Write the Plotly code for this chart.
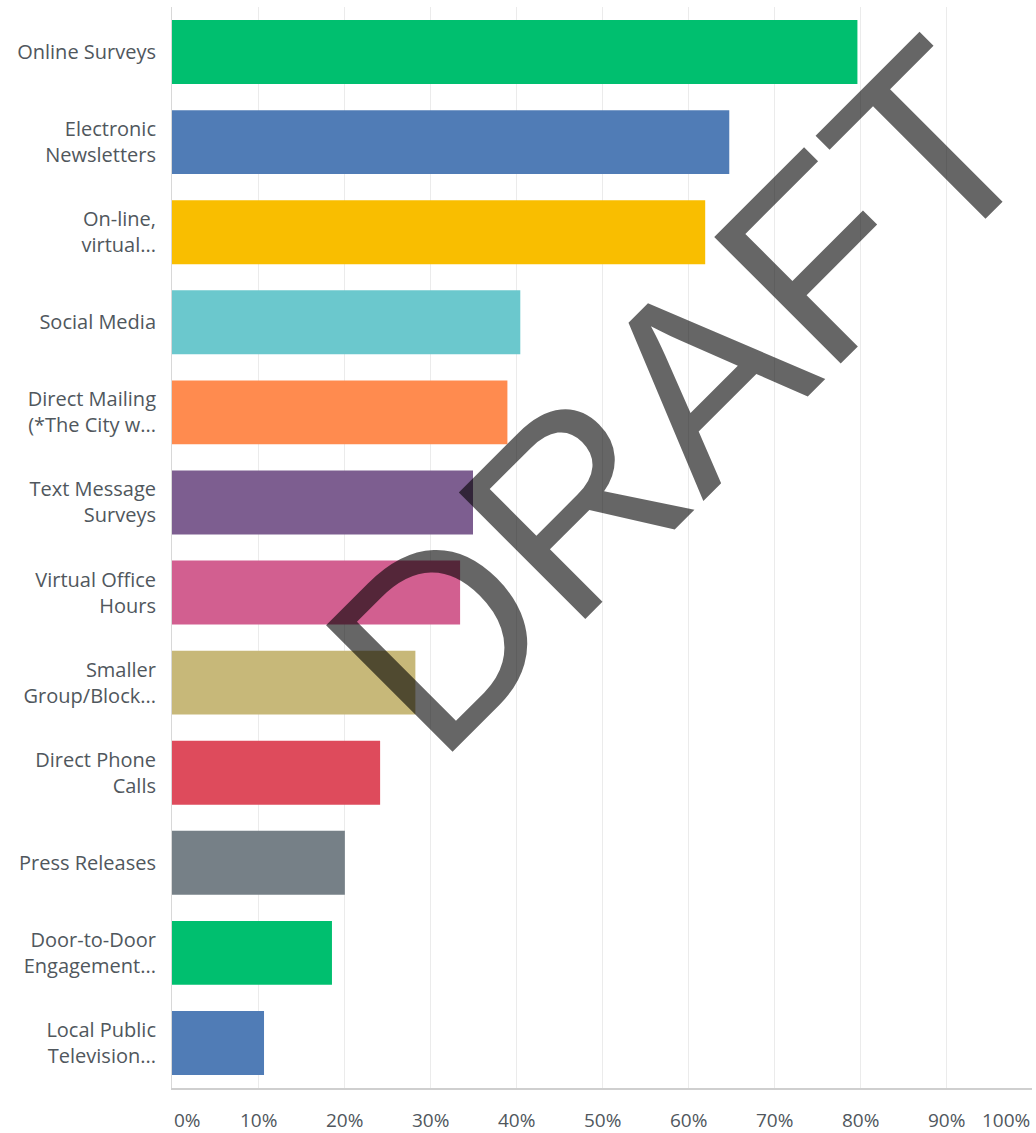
import plotly.graph_objects as go

categories = [
    "Online Surveys",
    "Electronic<br>Newsletters",
    "On-line,<br>virtual...",
    "Social Media",
    "Direct Mailing<br>(*The City w...",
    "Text Message<br>Surveys",
    "Virtual Office<br>Hours",
    "Smaller<br>Group/Block...",
    "Direct Phone<br>Calls",
    "Press Releases",
    "Door-to-Door<br>Engagement...",
    "Local Public<br>Television...",
]
values = [79.7, 64.8, 62.0, 40.5, 39.0, 35.0, 33.5, 28.3, 24.2, 20.1, 18.6, 10.7]
colors = ["#00BF6F", "#507CB6", "#F9BE00", "#6BC8CD", "#FF8B4F", "#7D5E90",
          "#D25F90", "#C7B879", "#DE4B5C", "#768087", "#00BF6F", "#507CB6"]
tick_vals = [0, 10, 20, 30, 40, 50, 60, 70, 80, 90, 100]
tick_text = ["0%", "10%", "20%", "30%", "40%", "50%", "60%", "70%", "80%", "90%", "100%"]

FONT = "Open Sans"
TXT = "#50575d"

L, R, T, B = 172, 4, 7, 45
W, H = 1036, 1133

fig = go.Figure(go.Bar(
    y=categories, x=values, orientation="h",
    marker=dict(color=colors, line=dict(width=0)),
    hoverinfo="skip",
))

annotations = []
for v, t in zip(tick_vals, tick_text):
    anchor = "left" if v == tick_vals[0] else ("right" if v == tick_vals[-1] else "center")
    annotations.append(dict(
        x=v, xref="x", y=0, yref="paper", yshift=-32, text=t, showarrow=False,
        xanchor=anchor, yanchor="middle",
        font=dict(family=FONT, size=19, color=TXT),
    ))

# watermark, placed by its pixel centre
wm_cx, wm_cy = 680, 397
annotations.append(dict(
    x=(wm_cx - L) / (W - L - R), y=(H - B - wm_cy) / (H - T - B),
    xref="paper", yref="paper", xanchor="center", yanchor="middle",
    text="DRAFT", showarrow=False, textangle=-45,
    font=dict(family="Liberation Sans", size=260, color="rgba(0,0,0,0.6)"),
))

fig.update_layout(
    width=W, height=H,
    margin=dict(l=L, r=R, t=T, b=B, pad=0),
    plot_bgcolor="white", paper_bgcolor="white",
    bargap=0.29,
    showlegend=False,
    xaxis=dict(
        range=[0, 100], tickvals=tick_vals, showticklabels=False,
        showgrid=True, gridcolor="#ebebeb", gridwidth=1,
        zeroline=False, showline=True, linecolor="#cfcfcf", linewidth=2,
        ticks="", fixedrange=True,
    ),
    yaxis=dict(
        autorange="reversed", showgrid=False, zeroline=False,
        showline=True, linecolor="#d8d8d8", linewidth=1,
        ticks="", ticklabelstandoff=11,
        tickfont=dict(family=FONT, size=20, color=TXT),
        fixedrange=True,
    ),
    annotations=annotations,
)

fig.write_html("out.html", config={"displayModeBar": False})
